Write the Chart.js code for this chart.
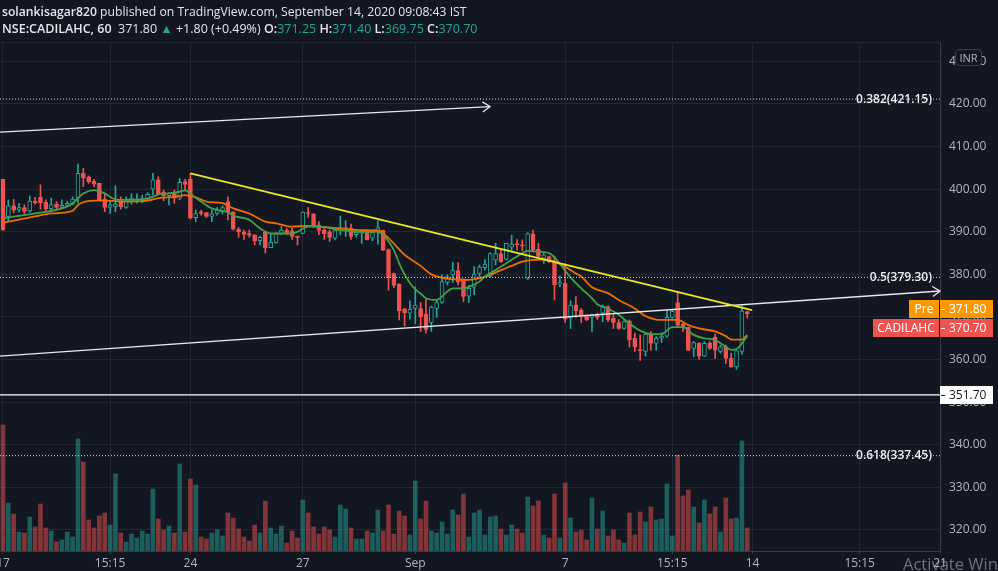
<!DOCTYPE html>
<html>
<head>
<meta charset="utf-8">
<title>CADILAHC 60</title>
<script src="https://cdn.jsdelivr.net/npm/chart.js@4.4.1/dist/chart.umd.min.js"></script>
<style>
  html, body { margin: 0; padding: 0; background: #131722; overflow: hidden; }
  #wrap { position: relative; width: 998px; height: 571px; }
  #chart { position: absolute; left: 0; top: 0; }
  .hdr { position: absolute; left: 2px; font-family: 'Open Sans', sans-serif; color: #e3e5ea; white-space: nowrap; }
  .hdr b { font-weight: 600; }
  .up { color: #26a69a; }
  #topline { position: absolute; left: 0; top: 42px; width: 940px; height: 1px; background: #232733; }
  #inr { position: absolute; left: 955px; top: 49px; width: 27px; height: 17px; box-sizing: border-box;
         border: 1px solid #3a3e49; border-radius: 4px; background: #131722; color: #b2b5be;
         font: 11px 'Open Sans', sans-serif; text-align: center; line-height: 15px; }
  #winmark { position: absolute; left: 903px; top: 552px; font: 16.5px 'Open Sans', sans-serif;
             color: rgba(200, 202, 208, 0.5); white-space: nowrap; }
</style>
</head>
<body>
<div id="wrap">
  <canvas id="chart" width="998" height="571"></canvas>
  <div class="hdr" style="top:3px;font-size:12.2px"><b>solankisagar820</b> published on TradingView.com, September 14, 2020 09:08:43 IST</div>
  <div class="hdr" style="top:20px;font-size:12.5px"><b>NSE:CADILAHC, 60</b>&nbsp; 371.80 <span class="up">▲</span> +1.80 (+0.49%) <b>O:</b><span class="up">371.25</span> <b>H:</b><span class="up">371.40</span> <b>L:</b><span class="up">369.75</span> <b>C:</b><span class="up">370.70</span></div>
  <div id="topline"></div>
  <div id="inr">INR</div>
  <div id="winmark">Activate Windows</div>
</div>
<script>
// hourly candles, 17 Aug .. 11 Sep 2020 (index 0 = 17 Aug 09:15)
const opens = [
  402.3,393.6,396.1,395.1,395.7,394.9,397.2,398.1,396.9,395.4,
  396.5,395.7,396.2,396.5,398.0,403.7,402.9,401.9,401.4,397.6,
  395.7,395.9,397.5,395.7,397.1,397.5,397.5,397.7,400.0,402.2,
  399.3,398.5,399.0,397.9,401.8,402.4,393.3,394.7,394.5,393.6,
  394.3,394.7,397.1,394.7,390.6,390.0,389.6,389.3,387.9,389.9,
  386.3,387.4,389.5,390.4,390.2,389.0,389.6,394.5,394.2,391.6,
  390.4,390.0,388.5,390.3,390.4,390.8,389.3,389.6,389.8,388.5,
  390.3,390.4,385.8,380.2,377.7,371.9,370.9,372.0,372.0,370.7,
  368.7,372.0,373.4,378.1,379.9,380.9,378.7,374.9,377.0,380.2,
  381.6,379.5,383.4,384.9,383.5,386.4,387.1,386.9,379.1,389.5,
  385.9,383.8,384.2,383.0,377.7,377.9,369.7,372.8,371.6,370.2,
  369.9,370.7,370.9,372.4,369.7,368.7,367.3,369.1,365.0,362.2,
  361.9,365.8,363.8,365.0,365.5,369.9,373.4,368.3,367.6,362.6,
  363.8,360.8,363.8,365.2,361.9,363.0,360.3,358.3,361.9,371.25
];
const highs = [
  402.3,397.5,397.6,396.7,396.3,398.4,398.1,401.0,397.5,397.9,
  397.1,397.5,397.2,398.2,405.9,404.9,403.1,402.3,401.4,399.0,
  397.1,400.8,398.2,398.2,398.9,398.9,398.6,399.2,403.7,402.9,
  399.8,399.2,399.8,402.5,402.3,403.7,395.1,395.1,394.5,395.1,
  395.7,396.1,398.2,394.7,391.0,390.4,390.4,389.3,389.0,389.9,
  389.5,389.8,391.2,390.8,390.8,389.0,394.7,395.7,394.3,392.4,
  390.8,390.4,390.3,393.7,392.6,391.8,390.3,390.3,390.4,390.4,
  392.6,390.4,386.0,380.3,377.8,372.0,373.8,377.1,373.4,374.2,
  372.6,373.9,379.9,379.9,382.8,382.8,378.7,377.4,381.8,382.2,
  383.5,385.1,387.3,385.9,387.3,389.2,388.2,388.1,389.8,390.4,
  387.3,385.1,384.3,384.2,379.6,382.5,373.8,374.8,372.0,370.5,
  370.7,370.9,372.8,372.6,370.5,369.4,369.1,369.3,366.2,365.8,
  366.3,366.6,365.4,366.3,371.6,371.8,375.8,368.5,367.6,364.2,
  364.0,364.2,364.2,366.0,363.4,363.4,361.5,362.1,372.6,371.40
];
const lows = [
  390.4,392.4,394.5,394.6,394.3,394.6,396.5,395.3,394.7,395.1,
  395.3,395.4,395.9,396.3,396.8,400.6,401.4,400.6,397.5,394.7,
  394.3,394.7,395.3,395.5,396.5,396.7,396.8,397.3,398.6,398.6,
  397.3,396.3,396.7,397.5,399.8,393.0,392.4,393.9,393.4,392.4,
  393.9,394.2,392.8,390.4,388.7,388.2,388.7,386.9,386.9,385.0,
  386.3,387.3,389.3,389.3,388.2,386.9,389.5,393.4,391.0,389.3,
  388.2,387.7,388.1,389.3,388.9,388.2,388.7,387.3,388.1,387.9,
  387.1,385.6,376.3,376.9,369.3,367.9,369.5,368.4,366.6,366.2,
  366.6,369.9,373.2,377.5,378.1,377.5,373.6,373.4,375.2,379.3,
  381.0,379.3,382.2,382.8,383.4,385.6,385.7,385.6,378.8,385.3,
  383.8,382.6,382.8,374.0,377.1,368.7,367.3,369.9,368.7,369.1,
  366.6,369.4,368.9,368.9,367.3,367.1,367.1,362.9,361.9,359.8,
  360.8,362.2,362.2,364.0,365.2,369.7,367.7,366.6,362.1,360.7,
  360.1,360.7,362.4,360.3,361.5,359.0,358.2,357.7,361.3,369.75
];
const closes = [
  390.4,396.1,395.1,395.7,394.8,397.2,396.7,396.8,395.4,396.4,
  395.7,396.2,396.7,397.7,403.7,402.7,401.7,401.2,397.5,395.7,
  396.3,396.5,395.9,397.5,397.9,397.7,397.9,398.8,402.2,398.9,
  398.5,399.0,397.9,401.6,401.1,393.2,394.3,394.3,393.6,394.2,
  395.1,395.7,394.5,390.6,390.0,389.4,389.2,387.9,388.7,386.3,
  387.5,389.6,390.4,389.8,388.9,388.7,394.6,394.3,391.2,390.3,
  389.5,388.7,390.3,391.0,391.0,388.9,389.9,389.9,388.1,389.8,
  391.0,385.6,379.2,377.4,371.5,371.0,371.8,372.8,370.1,367.1,
  372.3,373.4,378.3,379.5,380.9,378.2,374.8,376.7,380.1,381.7,
  382.4,384.9,384.9,383.0,387.3,387.1,387.0,386.7,389.6,385.7,
  384.2,384.6,383.0,377.5,378.1,369.5,372.8,371.5,370.2,369.4,
  370.5,369.9,372.3,369.3,368.7,367.3,368.9,364.6,363.0,362.1,
  366.0,363.8,365.0,365.5,369.9,371.3,368.1,367.6,362.2,364.0,
  360.8,363.8,362.6,362.2,363.0,360.3,358.3,362.1,371.4,370.70
];
// volume (relative units)
const volumes = [
  126,48,37,19,18,34,24,47,23,20, 9,11,19,14,112,89,31,23,35,38,
  26,77,18,9,17,13,20,17,62,32, 21,25,18,87,19,72,66,14,12,18,
  21,15,38,33,22,14,10,26,18,50, 23,17,25,8,20,13,51,38,24,17,
  24,21,14,46,42,23,12,12,20,18, 41,20,46,17,40,35,16,70,32,50,
  20,18,29,17,41,36,57,14,38,41, 16,34,35,22,16,26,22,18,54,45,
  50,16,13,57,13,68,33,19,21,11, 53,22,40,15,21,11,8,38,16,39,
  29,44,31,32,67,15,96,55,61,44, 28,51,37,44,19,53,32,33,110,23
];
// moving averages, read at selected bars
const fastMaIdx = [0,6,12,13,15,17,19,21,23,26,28,29,31,33,34,35,37,39,42,43,46,48,50,52,54,55,57,59,63,67,70,71,73,74,75,76,77,78,79,81,83,84,86,87,89,90,92,94,96,98,100,102,103,104,106,108,110,111,113,115,117,119,121,123,125,127,129,131,133,135,136,137,139];
const fastMa = [393.2,394.3,395.9,396.7,399.0,399.8,399.0,397.6,397.5,397.6,398.2,398.8,399.0,399.4,399.7,398.9,397.1,395.5,394.6,393.8,392.8,390.8,389.6,389.6,389.6,390.0,391.2,391.2,390.4,390.0,390.0,389.3,385.7,382.6,380.0,378.0,376.5,375.5,374.4,374.0,376.0,376.7,376.7,377.1,378.3,379.5,381.0,382.6,384.2,385.5,385.3,385.0,384.0,382.5,379.3,376.7,374.4,373.0,372.0,370.5,368.5,366.8,366.0,366.0,367.6,367.6,365.8,365.0,364.6,363.0,362.3,362.5,365.5];
const slowMaIdx = [0,6,9,13,14,17,19,23,27,29,32,34,36,38,41,43,46,49,51,54,57,59,63,67,70,72,75,78,80,82,85,87,89,91,93,95,97,99,101,103,105,107,108,110,113,115,118,120,122,124,126,128,130,133,135,136,138,139];
const slowMa = [392.1,393.6,394.3,394.9,396.3,397.3,397.3,397.1,397.3,397.9,398.2,398.6,398.1,397.1,396.7,395.5,394.3,392.4,392.0,391.2,391.4,391.2,390.8,390.4,390.3,388.5,384.6,382.0,380.0,379.2,378.8,378.7,379.1,379.9,381.0,382.0,383.0,383.4,383.5,383.0,381.8,380.2,379.5,377.0,375.6,374.0,372.0,370.2,369.4,369.3,369.3,368.1,367.3,366.6,365.5,364.7,364.7,365.8];
// drawings
const channelTop = [[-0.56, 413.4], [90.96, 419.4]];
const channelBottom = [[-0.56, 360.8], [175, 376.1]];
const downTrend = [[35, 403.7], [139.9, 371.6]];
const supportLevel = 351.70;
const fibRatios = ['0.382', '0.5', '0.618'];
const fibLevels = [421.15, 379.30, 337.45];
// axes
const xTickIdx = [0, 20, 35, 56, 77, 105, 125, 140, 160, 175];
const xTickLabels = ['17', '15:15', '24', '27', 'Sep', '7', '15:15', '14', '15:15', '21'];
const priceTicks = [320, 330, 340, 350, 360, 370, 380, 390, 400, 410, 420, 430];
const preMarket = 371.80;
const lastClose = 370.70;

const FONT = "'Open Sans', sans-serif";
const UP = '#26a69a', DOWN = '#ef5350', BG = '#131722';
const GRID = '#232733', AXIS = '#363a45', TEXT = '#b2b5be';

const isUp = opens.map((o, i) => closes[i] >= o);
const pts = arr => arr.map(([x, y]) => ({ x, y }));
const flat = (y) => [{ x: -0.56, y }, { x: 175, y }];

const datasets = [
  // trend lines and levels
  { type: 'line', data: pts(downTrend), borderColor: '#ebe626', borderWidth: 1.8, pointRadius: 0, order: 0 },
  { type: 'line', data: pts(channelTop), borderColor: '#e9eaee', borderWidth: 1.3, pointRadius: 0, order: 0, arrow: true },
  { type: 'line', data: pts(channelBottom), borderColor: '#e9eaee', borderWidth: 1.3, pointRadius: 0, order: 0, arrow: true },
  { type: 'line', data: flat(supportLevel), borderColor: '#ffffff', borderWidth: 1.2, pointRadius: 0, order: 0 },
  ...fibLevels.map(lv => ({ type: 'line', data: flat(lv), borderColor: '#d8dae0', borderWidth: 1,
    borderDash: [1, 2], pointRadius: 0, order: 0 })),
  // moving averages
  { type: 'line', data: fastMaIdx.map((x, i) => ({ x, y: fastMa[i] })), borderColor: '#43a047', borderWidth: 1.8,
    pointRadius: 0, cubicInterpolationMode: 'monotone', order: 1 },
  { type: 'line', data: slowMaIdx.map((x, i) => ({ x, y: slowMa[i] })), borderColor: '#ef6c00', borderWidth: 1.8,
    pointRadius: 0, cubicInterpolationMode: 'monotone', order: 1 },
  // candle bodies (hollow up, filled down)
  { type: 'bar', data: opens.map((o, i) => ({ x: i, y: [o, closes[i]] })),
    backgroundColor: isUp.map(u => u ? BG : DOWN), borderColor: isUp.map(u => u ? UP : DOWN),
    borderWidth: 1, borderSkipped: false, barThickness: 4, minBarLength: 1, grouped: false, order: 2 },
  // wicks
  { type: 'bar', data: lows.map((l, i) => ({ x: i, y: [l, highs[i]] })),
    backgroundColor: isUp.map(u => u ? UP : DOWN), barThickness: 1, grouped: false, order: 3 },
  // volume
  { type: 'bar', yAxisID: 'yv', data: volumes.map((v, i) => ({ x: i, y: v })),
    backgroundColor: isUp.map(u => u ? 'rgba(38,166,154,0.5)' : 'rgba(239,83,80,0.5)'),
    barThickness: 4, grouped: false, order: 4 }
];

const overlays = {
  id: 'overlays',
  afterDatasetsDraw(chart) {
    const { ctx } = chart;
    chart.data.datasets.forEach((ds, i) => {
      if (!ds.arrow) return;
      const el = chart.getDatasetMeta(i).data;
      const a = el[el.length - 2], b = el[el.length - 1];
      const ang = Math.atan2(b.y - a.y, b.x - a.x);
      ctx.save();
      ctx.strokeStyle = ds.borderColor;
      ctx.lineWidth = 1.3;
      ctx.beginPath();
      ctx.moveTo(b.x - 9 * Math.cos(ang - 0.6), b.y - 9 * Math.sin(ang - 0.6));
      ctx.lineTo(b.x, b.y);
      ctx.lineTo(b.x - 9 * Math.cos(ang + 0.6), b.y - 9 * Math.sin(ang + 0.6));
      ctx.stroke();
      ctx.restore();
    });
    const ys = chart.scales.y;
    ctx.save();
    ctx.font = `600 12px ${FONT}`;
    ctx.fillStyle = '#eceef2';
    ctx.textAlign = 'right';
    ctx.textBaseline = 'middle';
    fibLevels.forEach((lv, k) => ctx.fillText(`${fibRatios[k]}(${lv.toFixed(2)})`, 932, ys.getPixelForValue(lv)));
    ctx.restore();
  },
  afterDraw(chart) {
    const { ctx, chartArea } = chart;
    const ys = chart.scales.y, xs = chart.scales.x;
    const ax = chartArea.right;
    // axis labels
    ctx.save();
    ctx.font = `12px ${FONT}`;
    ctx.fillStyle = TEXT;
    ctx.textBaseline = 'middle';
    ctx.textAlign = 'left';
    priceTicks.forEach(v => ctx.fillText(v.toFixed(2), ax + 9, ys.getPixelForValue(v)));
    ctx.textAlign = 'center';
    xTickIdx.forEach((v, k) => ctx.fillText(xTickLabels[k], xs.getPixelForValue(v), chartArea.bottom + 13));
    ctx.restore();

    const h = 18;
    const box = (x0, x1, top, bg) => { ctx.fillStyle = bg; ctx.fillRect(x0, top, x1 - x0, h); };
    const label = (txt, x, top, color, align) => {
      ctx.fillStyle = color; ctx.textAlign = align; ctx.fillText(txt, x, top + h / 2 + 0.5);
    };
    const dash = (top, color) => { ctx.fillStyle = color; ctx.fillRect(ax + 1, top + h / 2, 4, 1); };
    ctx.save();
    ctx.font = `12px ${FONT}`;
    ctx.textBaseline = 'middle';
    // pre-market
    const preTop = Math.round(ys.getPixelForValue(preMarket) - h / 2);
    box(ax - 31, ax - 1, preTop, '#ff9800');
    label('Pre', ax - 16, preTop, '#ffffff', 'center');
    box(ax, ax + 53, preTop, '#ff9800');
    dash(preTop, '#ffffff');
    label(preMarket.toFixed(2), ax + 9, preTop, '#ffffff', 'left');
    // last close, pushed below the pre-market box
    const lastTop = Math.max(Math.round(ys.getPixelForValue(lastClose) - h / 2), preTop + h + 1);
    box(ax - 67, ax - 1, lastTop, DOWN);
    label('CADILAHC', ax - 34, lastTop, '#ffffff', 'center');
    box(ax, ax + 53, lastTop, DOWN);
    dash(lastTop, '#ffffff');
    label(lastClose.toFixed(2), ax + 9, lastTop, '#ffffff', 'left');
    // support level
    const supTop = Math.round(ys.getPixelForValue(supportLevel) - h / 2);
    box(ax, ax + 53, supTop, '#ffffff');
    dash(supTop, BG);
    label(supportLevel.toFixed(2), ax + 9, supTop, BG, 'left');
    ctx.restore();
  }
};

new Chart(document.getElementById('chart'), {
  type: 'bar',
  data: { datasets },
  plugins: [overlays],
  options: {
    responsive: false,
    animation: false,
    devicePixelRatio: 1,
    layout: { padding: { top: 42, left: 0, right: 0, bottom: 0 } },
    plugins: { legend: { display: false }, tooltip: { enabled: false } },
    scales: {
      x: {
        type: 'linear', min: -0.56, max: 175, offset: false,
        afterBuildTicks: s => { s.ticks = xTickIdx.map(v => ({ value: v })); },
        afterFit: s => { s.height = 20; },
        grid: { color: GRID, tickLength: 3, tickColor: AXIS, offset: false },
        border: { color: AXIS },
        ticks: { display: false }
      },
      y: {
        position: 'right', min: 315.07, max: 434.55,
        afterBuildTicks: s => { s.ticks = priceTicks.map(v => ({ value: v })); },
        afterFit: s => { s.width = 58; },
        grid: { color: GRID, drawTicks: false },
        border: { color: AXIS },
        ticks: { display: false }
      },
      yv: { display: false, min: 0, max: 509 }
    }
  }
});
</script>
</body>
</html>
